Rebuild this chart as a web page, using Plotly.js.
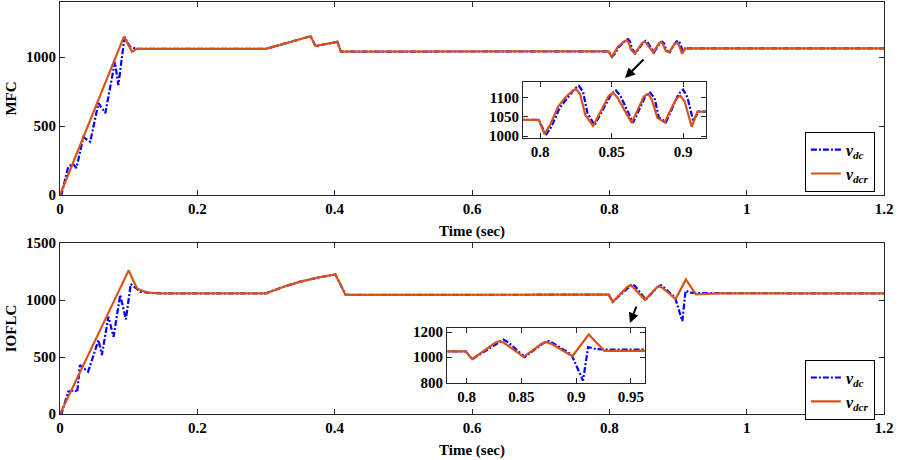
<!DOCTYPE html>
<html><head><meta charset="utf-8">
<script src="https://cdn.plot.ly/plotly-3.0.1.min.js"></script>
<style>body{margin:0;background:#fff}#chart{width:904px;height:460px}</style>
</head><body><div id="chart"></div>
<script>
// ---- MFC panel data ----
const mfcRefT = [0, 0.093, 0.105, 0.112, 0.30, 0.365, 0.372, 0.404, 0.409, 0.799, 0.803, 0.807, 0.8125, 0.8175, 0.822, 0.825, 0.828, 0.8315, 0.837, 0.848, 0.851, 0.854, 0.864, 0.8725, 0.8755, 0.878, 0.882, 0.887, 0.895, 0.898, 0.901, 0.906, 0.910, 1.2];
const mfcRefV = [0, 1147, 1040, 1060, 1060, 1152, 1080, 1111, 1040, 1042, 1005, 1029, 1076, 1099, 1115, 1122, 1108, 1055, 1026, 1104, 1112, 1100, 1034, 1102, 1109, 1095, 1047, 1035, 1096, 1104, 1090, 1024, 1063, 1063];
const mfcDcT = [0, 0.002, 0.012, 0.019, 0.024, 0.034, 0.044, 0.056, 0.066, 0.080, 0.085, 0.094, 0.102, 0.112, 0.30, 0.365, 0.372, 0.404, 0.409, 0.799, 0.804, 0.808, 0.8135, 0.8185, 0.824, 0.827, 0.830, 0.833, 0.838, 0.850, 0.853, 0.856, 0.865, 0.874, 0.877, 0.880, 0.883, 0.888, 0.897, 0.900, 0.903, 0.907, 0.911, 1.2];
const mfcDcV = [0, 0, 205, 225, 195, 420, 386, 666, 594, 966, 797, 1147, 1075, 1060, 1060, 1152, 1080, 1111, 1040, 1042, 1003, 1025, 1072, 1097, 1122, 1130, 1115, 1060, 1028, 1110, 1118, 1105, 1034, 1106, 1112, 1098, 1048, 1036, 1110, 1120, 1100, 1040, 1063, 1063];
// ---- IOFLC panel data ----
const iofRefT = [0, 0.100, 0.106, 0.112, 0.120, 0.128, 0.14, 0.15, 0.30, 0.326, 0.350, 0.375, 0.401, 0.416, 0.799, 0.805, 0.826, 0.830, 0.834, 0.852, 0.869, 0.873, 0.877, 0.8966, 0.9115, 0.926, 0.96, 1.2];
const iofRefV = [0, 1260, 1180, 1103, 1080, 1066, 1060, 1058, 1058, 1117, 1161, 1196, 1225, 1045, 1047, 984, 1115, 1128, 1115, 1002, 1110, 1120, 1108, 1008, 1180, 1050, 1058, 1058];
const iofDcT = [0, 0.002, 0.012, 0.022, 0.025, 0.029, 0.041, 0.056, 0.061, 0.0705, 0.078, 0.0876, 0.096, 0.103, 0.117, 0.13, 0.15, 0.30, 0.326, 0.350, 0.375, 0.401, 0.416, 0.799, 0.805, 0.829, 0.8335, 0.838, 0.853, 0.871, 0.875, 0.879, 0.8957, 0.9063, 0.911, 0.918, 0.93, 1.2];
const iofDcV = [0, 0, 196, 210, 190, 430, 371, 649, 518, 854, 678, 1044, 830, 1140, 1073, 1062, 1058, 1058, 1117, 1161, 1196, 1225, 1045, 1047, 984, 1120, 1140, 1118, 1002, 1118, 1130, 1112, 1021, 814, 1081, 1065, 1060, 1058];
// ---- tick labels ----
const mainTimeTicks = [0, 0.2, 0.4, 0.6, 0.8, 1, 1.2];
const mfcYTicks = [0, 500, 1000];
const iofYTicks = [0, 500, 1000, 1500];
const mfcInsetXTicks = [0.8, 0.85, 0.9];
const mfcInsetYTicks = [1000, 1050, 1100];
const iofInsetXTicks = [0.8, 0.85, 0.9, 0.95];
const iofInsetYTicks = [800, 1000, 1200];
const seriesNames = ['<i>v</i><sub><i>dc</i></sub>', '<i>v</i><sub><i>dcr</i></sub>'];

const FONT = 'Liberation Serif, Times New Roman, serif';
const BLUE = '#0000FF', ORANGE = '#D95319';

function tr(x, y, xa, ya, kind, legend, show) {
  return {
    x: x, y: y, xaxis: xa, yaxis: ya, type: 'scatter', mode: 'lines',
    name: seriesNames[kind], legend: legend, showlegend: show,
    line: kind === 0 ? {color: BLUE, width: 2.2, dash: '6px,2px,2px,2px'} : {color: ORANGE, width: 2.2},
    hoverinfo: 'skip'
  };
}
const data = [
  tr(mfcDcT, mfcDcV, 'x', 'y', 0, 'legend', true),
  tr(mfcRefT, mfcRefV, 'x', 'y', 1, 'legend', true),
  tr(iofDcT, iofDcV, 'x2', 'y2', 0, 'legend2', true),
  tr(iofRefT, iofRefV, 'x2', 'y2', 1, 'legend2', true),
  tr(mfcDcT, mfcDcV, 'x3', 'y3', 0, 'legend', false),
  tr(mfcRefT, mfcRefV, 'x3', 'y3', 1, 'legend', false),
  tr(iofDcT, iofDcV, 'x4', 'y4', 0, 'legend2', false),
  tr(iofRefT, iofRefV, 'x4', 'y4', 1, 'legend2', false)
];

const tickFont = {family: FONT, size: 15, color: '#000', weight: 'bold'};
function ax(extra) {
  return Object.assign({
    showline: true, linecolor: '#262626', linewidth: 1, mirror: 'ticks',
    ticks: 'inside', ticklen: 5, tickwidth: 1, tickcolor: '#262626',
    showgrid: false, zeroline: false, tickfont: tickFont, fixedrange: true
  }, extra);
}
const titleFont = {family: FONT, size: 15, color: '#000', weight: 'bold'};
const legendFont = {family: FONT, size: 16, color: '#000', weight: 'bold'};

const layout = {
  width: 904, height: 460,
  margin: {l: 60, r: 20, t: 2, b: 46},
  paper_bgcolor: '#fff', plot_bgcolor: '#fff',
  font: {family: FONT, color: '#000'},
  xaxis: ax({domain: [0, 1], anchor: 'y', range: [0, 1.2], tickvals: mainTimeTicks,
    title: {text: 'Time (sec)', font: titleFont, standoff: 9}}),
  yaxis: ax({domain: [0.5316, 1], anchor: 'x', range: [0, 1400], tickvals: mfcYTicks,
    title: {text: 'MFC', font: titleFont, standoff: 5}}),
  xaxis2: ax({domain: [0, 1], anchor: 'y2', range: [0, 1.2], tickvals: mainTimeTicks,
    title: {text: 'Time (sec)', font: titleFont, standoff: 9}}),
  yaxis2: ax({domain: [0, 0.415], anchor: 'x2', range: [0, 1500], tickvals: iofYTicks,
    title: {text: 'IOFLC', font: titleFont, standoff: 5}}),
  xaxis3: ax({domain: [0.5619, 0.784], anchor: 'y3', range: [0.788, 0.916], tickvals: mfcInsetXTicks}),
  yaxis3: ax({domain: [0.670, 0.806], anchor: 'x3', range: [995, 1140], tickvals: mfcInsetYTicks}),
  xaxis4: ax({domain: [0.4697, 0.71], anchor: 'y4', range: [0.782, 0.963], tickvals: iofInsetXTicks}),
  yaxis4: ax({domain: [0.0752, 0.2087], anchor: 'x4', range: [795, 1232], tickvals: iofInsetYTicks}),
  legend: {x: 0.904, y: 0.685, xanchor: 'left', yanchor: 'top', bgcolor: '#fff',
    bordercolor: '#000', borderwidth: 1, font: legendFont, tracegroupgap: 0, itemwidth: 30},
  legend2: {x: 0.904, y: 0.132, xanchor: 'left', yanchor: 'top', bgcolor: '#fff',
    bordercolor: '#000', borderwidth: 1, font: legendFont, tracegroupgap: 0, itemwidth: 30},
  annotations: [
    {xref: 'paper', yref: 'paper', x: 0.6857, y: 0.8155, ax: 20, ay: -20, showarrow: true,
      arrowhead: 2, arrowsize: 1, arrowwidth: 2, arrowcolor: '#000', text: ''},
    {xref: 'paper', yref: 'paper', x: 0.6917, y: 0.2209, ax: 7, ay: -18, showarrow: true,
      arrowhead: 2, arrowsize: 1, arrowwidth: 2, arrowcolor: '#000', text: ''}
  ]
};
Plotly.newPlot('chart', data, layout, {displayModeBar: false, staticPlot: true});
</script>
</body></html>
